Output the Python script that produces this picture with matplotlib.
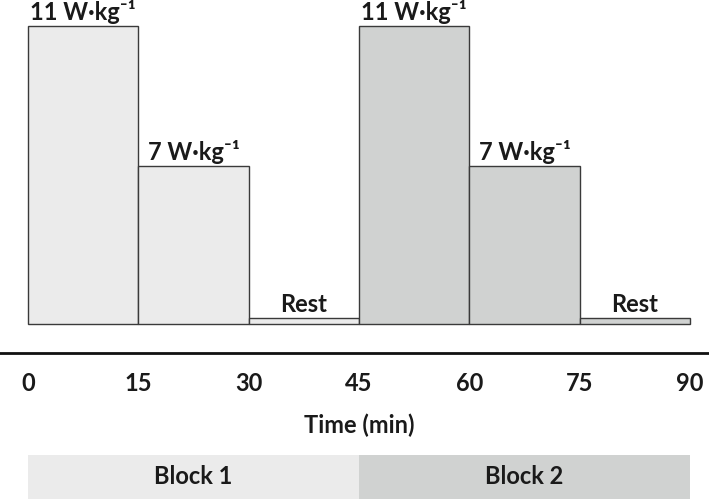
import matplotlib
matplotlib.use("Agg")
import matplotlib.pyplot as plt

plt.rcParams['font.family'] = ['Lato', 'DejaVu Sans']
plt.rcParams['font.weight'] = 'bold'

# schematic protocol: start time, duration (min), bar height, label
starts = [0, 15, 30, 45, 60, 75]
durations = [15, 15, 15, 15, 15, 15]
heights = [11, 5.83, 0.22, 11, 5.83, 0.22]
labels = ["11 W·kg⁻¹", "7 W·kg⁻¹", "Rest", "11 W·kg⁻¹", "7 W·kg⁻¹", "Rest"]
block_of_bar = [0, 0, 0, 1, 1, 1]

tick_values = [0, 15, 30, 45, 60, 75, 90]

blocks = ["Block 1", "Block 2"]
block_starts = [0, 45]
block_len = 45

block_colors = ["#ebebeb", "#d0d2d1"]
edge = "#3a3a3a"
txt = "#1a1a1a"
fs = 17

fig = plt.figure(figsize=(7.09, 4.99), dpi=100)
ax = fig.add_axes([0, 0, 1, 1])
ax.set_xlim(-3.81, 92.58)
ax.set_ylim(-6.46, 11.96)

for s, d, h, lab, b in zip(starts, durations, heights, labels, block_of_bar):
    ax.bar(s, h, width=d, align='edge', color=block_colors[b],
           edgecolor=edge, linewidth=1.0)
    ax.text(s + d / 2, h + 0.24, lab, ha='center', va='baseline',
            fontsize=fs, fontweight='bold', color=txt)

# time axis
for sp in ['top', 'left', 'right']:
    ax.spines[sp].set_visible(False)
ax.spines['bottom'].set_position(('data', -1.07))
ax.spines['bottom'].set_linewidth(2.0)
ax.spines['bottom'].set_color('#111111')
ax.set_yticks([])
ax.set_xticks(tick_values)
ax.set_xticklabels([str(t) for t in tick_values])
ax.tick_params(axis='x', length=0, pad=14, labelsize=fs, labelcolor=txt)
for lab in ax.get_xticklabels():
    lab.set_fontweight('bold')

ax.text(45, -3.73, "Time (min)", ha='center', va='center',
        fontsize=fs, fontweight='bold', color=txt)

# block bands
for name, bs, c in zip(blocks, block_starts, block_colors):
    ax.bar(bs, 2.0, width=block_len, bottom=-6.84, align='edge',
           color=c, edgecolor='none')
    ax.text(bs + block_len / 2, -5.62, name, ha='center', va='center',
            fontsize=fs, fontweight='bold', color=txt)

fig.savefig("out.png", dpi=100)
